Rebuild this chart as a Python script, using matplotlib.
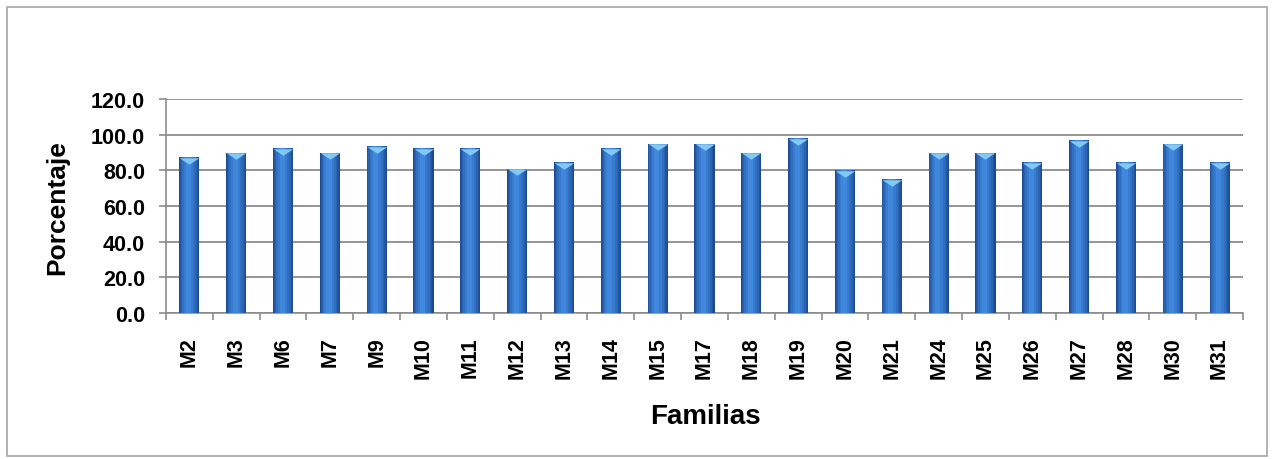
import numpy as np
import matplotlib
matplotlib.use("Agg")
import matplotlib.pyplot as plt
from matplotlib.patches import Rectangle
from matplotlib.colors import to_rgb

plt.rcParams['font.family'] = ['Liberation Sans', 'DejaVu Sans']

familias = ['M2', 'M3', 'M6', 'M7', 'M9', 'M10', 'M11', 'M12', 'M13', 'M14', 'M15', 'M17',
            'M18', 'M19', 'M20', 'M21', 'M24', 'M25', 'M26', 'M27', 'M28', 'M30', 'M31']
porcentaje = [87.5, 90.0, 92.5, 90.0, 93.5, 92.5, 92.5, 81.0, 84.5, 92.5, 95.0, 95.0,
              90.0, 98.0, 80.0, 75.0, 90.0, 90.0, 84.5, 97.0, 84.5, 95.0, 84.5]
y_ticks = [0, 20, 40, 60, 80, 100, 120]

fig = plt.figure(figsize=(12.74, 4.6), dpi=100)
ax = fig.add_axes([166/1274, 1 - 314/460, (1243-166)/1274, (314-100)/460])

# outer chart border
fig.patches.append(Rectangle((7/1274, 3/460), 1260/1274, 449/460,
                             transform=fig.transFigure, fill=False,
                             edgecolor='#a6a6a6', lw=1.2))

x = np.arange(len(familias))
vals = np.array(porcentaje)

# cylinder look: stacked bars, dark edges -> lighter centre
dark = np.array(to_rgb('#1c4a92'))
light = np.array(to_rgb('#4088de'))
widths = [0.43, 0.39, 0.34, 0.28, 0.2, 0.11]
for k, w in enumerate(widths):
    t = k / (len(widths) - 1)
    c = dark * (1 - t) + light * t
    ax.bar(x - 0.02 * t, vals, width=w, color=c, zorder=3, linewidth=0)

# light cone at the top of each bar
tri = [(-1, 0.33), (1, 0.33), (0, -0.33)]
ax.scatter(x, vals - 2.0, marker=tri, s=14**2, color='#82c9f4', zorder=4, linewidths=0)

ax.set_xlim(-0.5, len(familias) - 0.5)
ax.set_ylim(0, 120)
ax.set_yticks(y_ticks)
ax.set_yticklabels([f"{v:.1f}" for v in y_ticks], fontsize=15.5, fontweight='bold')
ax.set_xticks(x)
ax.set_xticklabels(familias, rotation=90, fontsize=15.5, fontweight='bold')
ax.set_xticks(np.arange(-0.5, len(familias)), minor=True)
ax.tick_params(axis='x', which='major', length=0, pad=17)
ax.tick_params(axis='x', which='minor', length=5, color='#8c8c8c', width=1.2)
ax.tick_params(axis='y', length=5, color='#8c8c8c', width=1.2, pad=10)

ax.grid(axis='y', color='#8c8c8c', lw=1.3, zorder=0)
ax.set_axisbelow(True)
for s in ['top', 'right']:
    ax.spines[s].set_visible(False)
for s in ['left', 'bottom']:
    ax.spines[s].set_color('#8c8c8c')
    ax.spines[s].set_linewidth(1.2)

fig.text(57/1274, 1 - 208/460, 'Porcentaje', fontsize=19, fontweight='bold',
         rotation=90, ha='center', va='center')
fig.text(705/1274, 1 - 417/460, 'Familias', fontsize=20, fontweight='bold',
         ha='center', va='center')

fig.savefig('out.png', dpi=100, facecolor='white')
